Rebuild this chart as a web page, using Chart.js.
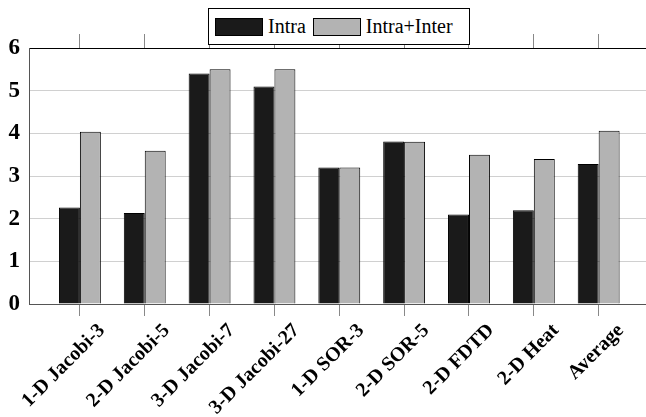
<!DOCTYPE html>
<html>
<head>
<meta charset="utf-8">
<script src="https://cdn.jsdelivr.net/npm/chart.js@4.4.1/dist/chart.umd.min.js"></script>
<style>
    html, body { margin: 0; padding: 0; background: #fff; }
    #wrap { position: relative; width: 646px; height: 417px; }
    #legend {
        position: absolute; left: 208px; top: 8px; width: 262px; height: 37px;
        border: 1px solid #000; background: #fff;
        display: flex; align-items: center; padding-left: 6px; box-sizing: border-box;
        font-family: 'Liberation Serif', serif; font-size: 20px; color: #000;
    }
    .legend-swatch { display: inline-block; width: 48px; height: 18px; border: 1px solid #000; box-sizing: border-box; }
    .legend-label { margin-left: 5px; margin-right: 7px; }
</style>
</head>
<body>
<div id="wrap">
    <canvas id="chart" width="646" height="417"></canvas>
    <div id="legend"></div>
</div>
<script>
// ==========================================
// DATA
// ==========================================

const categories = ['1-D Jacobi-3', '2-D Jacobi-5', '3-D Jacobi-7', '3-D Jacobi-27',
    '1-D SOR-3', '2-D SOR-5', '2-D FDTD', '2-D Heat', 'Average'];
const intraValues = [2.26, 2.13, 5.40, 5.10, 3.20, 3.81, 2.10, 2.20, 3.28];
const interValues = [4.04, 3.59, 5.50, 5.50, 3.20, 3.80, 3.50, 3.40, 4.06];
const yTicks = [0, 1, 2, 3, 4, 5, 6];

const seriesNames = ['Intra', 'Intra+Inter'];
const seriesColors = ['#1a1a1a', '#b3b3b3'];

// ==========================================
// CHART
// ==========================================

const FONT = "'Liberation Serif', 'Times New Roman', serif";

function categoryTicks(scale) {
    scale.ticks = categories.map((_, i) => ({ value: i }));
}

function toPoints(values) {
    return values.map((v, i) => ({ x: i, y: v }));
}

// keep the plot box fixed, labels may overhang the edges
function fixHorizontal(height) {
    return function(s) {
        s.height = height;
        s.paddingLeft = 0;
        s.paddingRight = 0;
    };
}

const xRange = { min: -0.785, max: 8.73 };

new Chart(document.getElementById('chart'), {
    type: 'bar',
    data: {
        datasets: [
            {
                label: seriesNames[0],
                data: toPoints(intraValues),
                backgroundColor: seriesColors[0],
                borderColor: '#000',
                borderWidth: 1,
                xAxisID: 'x'
            },
            {
                label: seriesNames[1],
                data: toPoints(interValues),
                backgroundColor: seriesColors[1],
                borderColor: '#000',
                borderWidth: 1,
                xAxisID: 'x'
            }
        ]
    },
    options: {
        responsive: false,
        animation: false,
        datasets: { bar: { categoryPercentage: 0.646, barPercentage: 1 } },
        layout: { padding: { top: 34, right: 0, bottom: 0, left: 0 } },
        plugins: {
            legend: { display: false },
            tooltip: { enabled: false }
        },
        scales: {
            x: {
                type: 'linear',
                position: 'bottom',
                offset: false,
                min: xRange.min,
                max: xRange.max,
                afterBuildTicks: categoryTicks,
                afterFit: fixHorizontal(113),
                grid: { offset: false, drawOnChartArea: false, drawTicks: true, tickLength: 12, color: '#888' },
                border: { color: '#555' },
                ticks: {
                    autoSkip: false,
                    minRotation: 45,
                    maxRotation: 45,
                    padding: 3,
                    labelOffset: 22,
                    color: '#000',
                    font: { family: FONT, size: 20, weight: 'bold' },
                    callback: v => categories[v]
                }
            },
            x2: {
                type: 'linear',
                position: 'top',
                offset: false,
                min: xRange.min,
                max: xRange.max,
                afterBuildTicks: categoryTicks,
                afterFit: fixHorizontal(14),
                grid: { offset: false, drawOnChartArea: false, drawTicks: true, tickLength: 14, color: '#888' },
                border: { color: '#000' },
                ticks: { display: false }
            },
            y: {
                min: 0,
                max: 6,
                afterBuildTicks: s => { s.ticks = yTicks.map(v => ({ value: v })); },
                afterFit: s => { s.width = 29; },
                grid: {
                    drawTicks: false,
                    color: ctx => ctx.tick && ctx.tick.value === 6 ? '#000' : '#d0d0d0'
                },
                border: { color: '#555' },
                ticks: {
                    padding: 9,
                    color: '#000',
                    font: { family: FONT, size: 23, weight: 'bold' }
                }
            }
        }
    }
});

// ==========================================
// LEGEND
// ==========================================

function createLegend() {
    const box = document.getElementById('legend');
    seriesNames.forEach((name, i) => {
        const sw = document.createElement('span');
        sw.className = 'legend-swatch';
        sw.style.backgroundColor = seriesColors[i];
        const lbl = document.createElement('span');
        lbl.className = 'legend-label';
        lbl.textContent = name;
        box.appendChild(sw);
        box.appendChild(lbl);
    });
}
createLegend();
</script>
</body>
</html>
